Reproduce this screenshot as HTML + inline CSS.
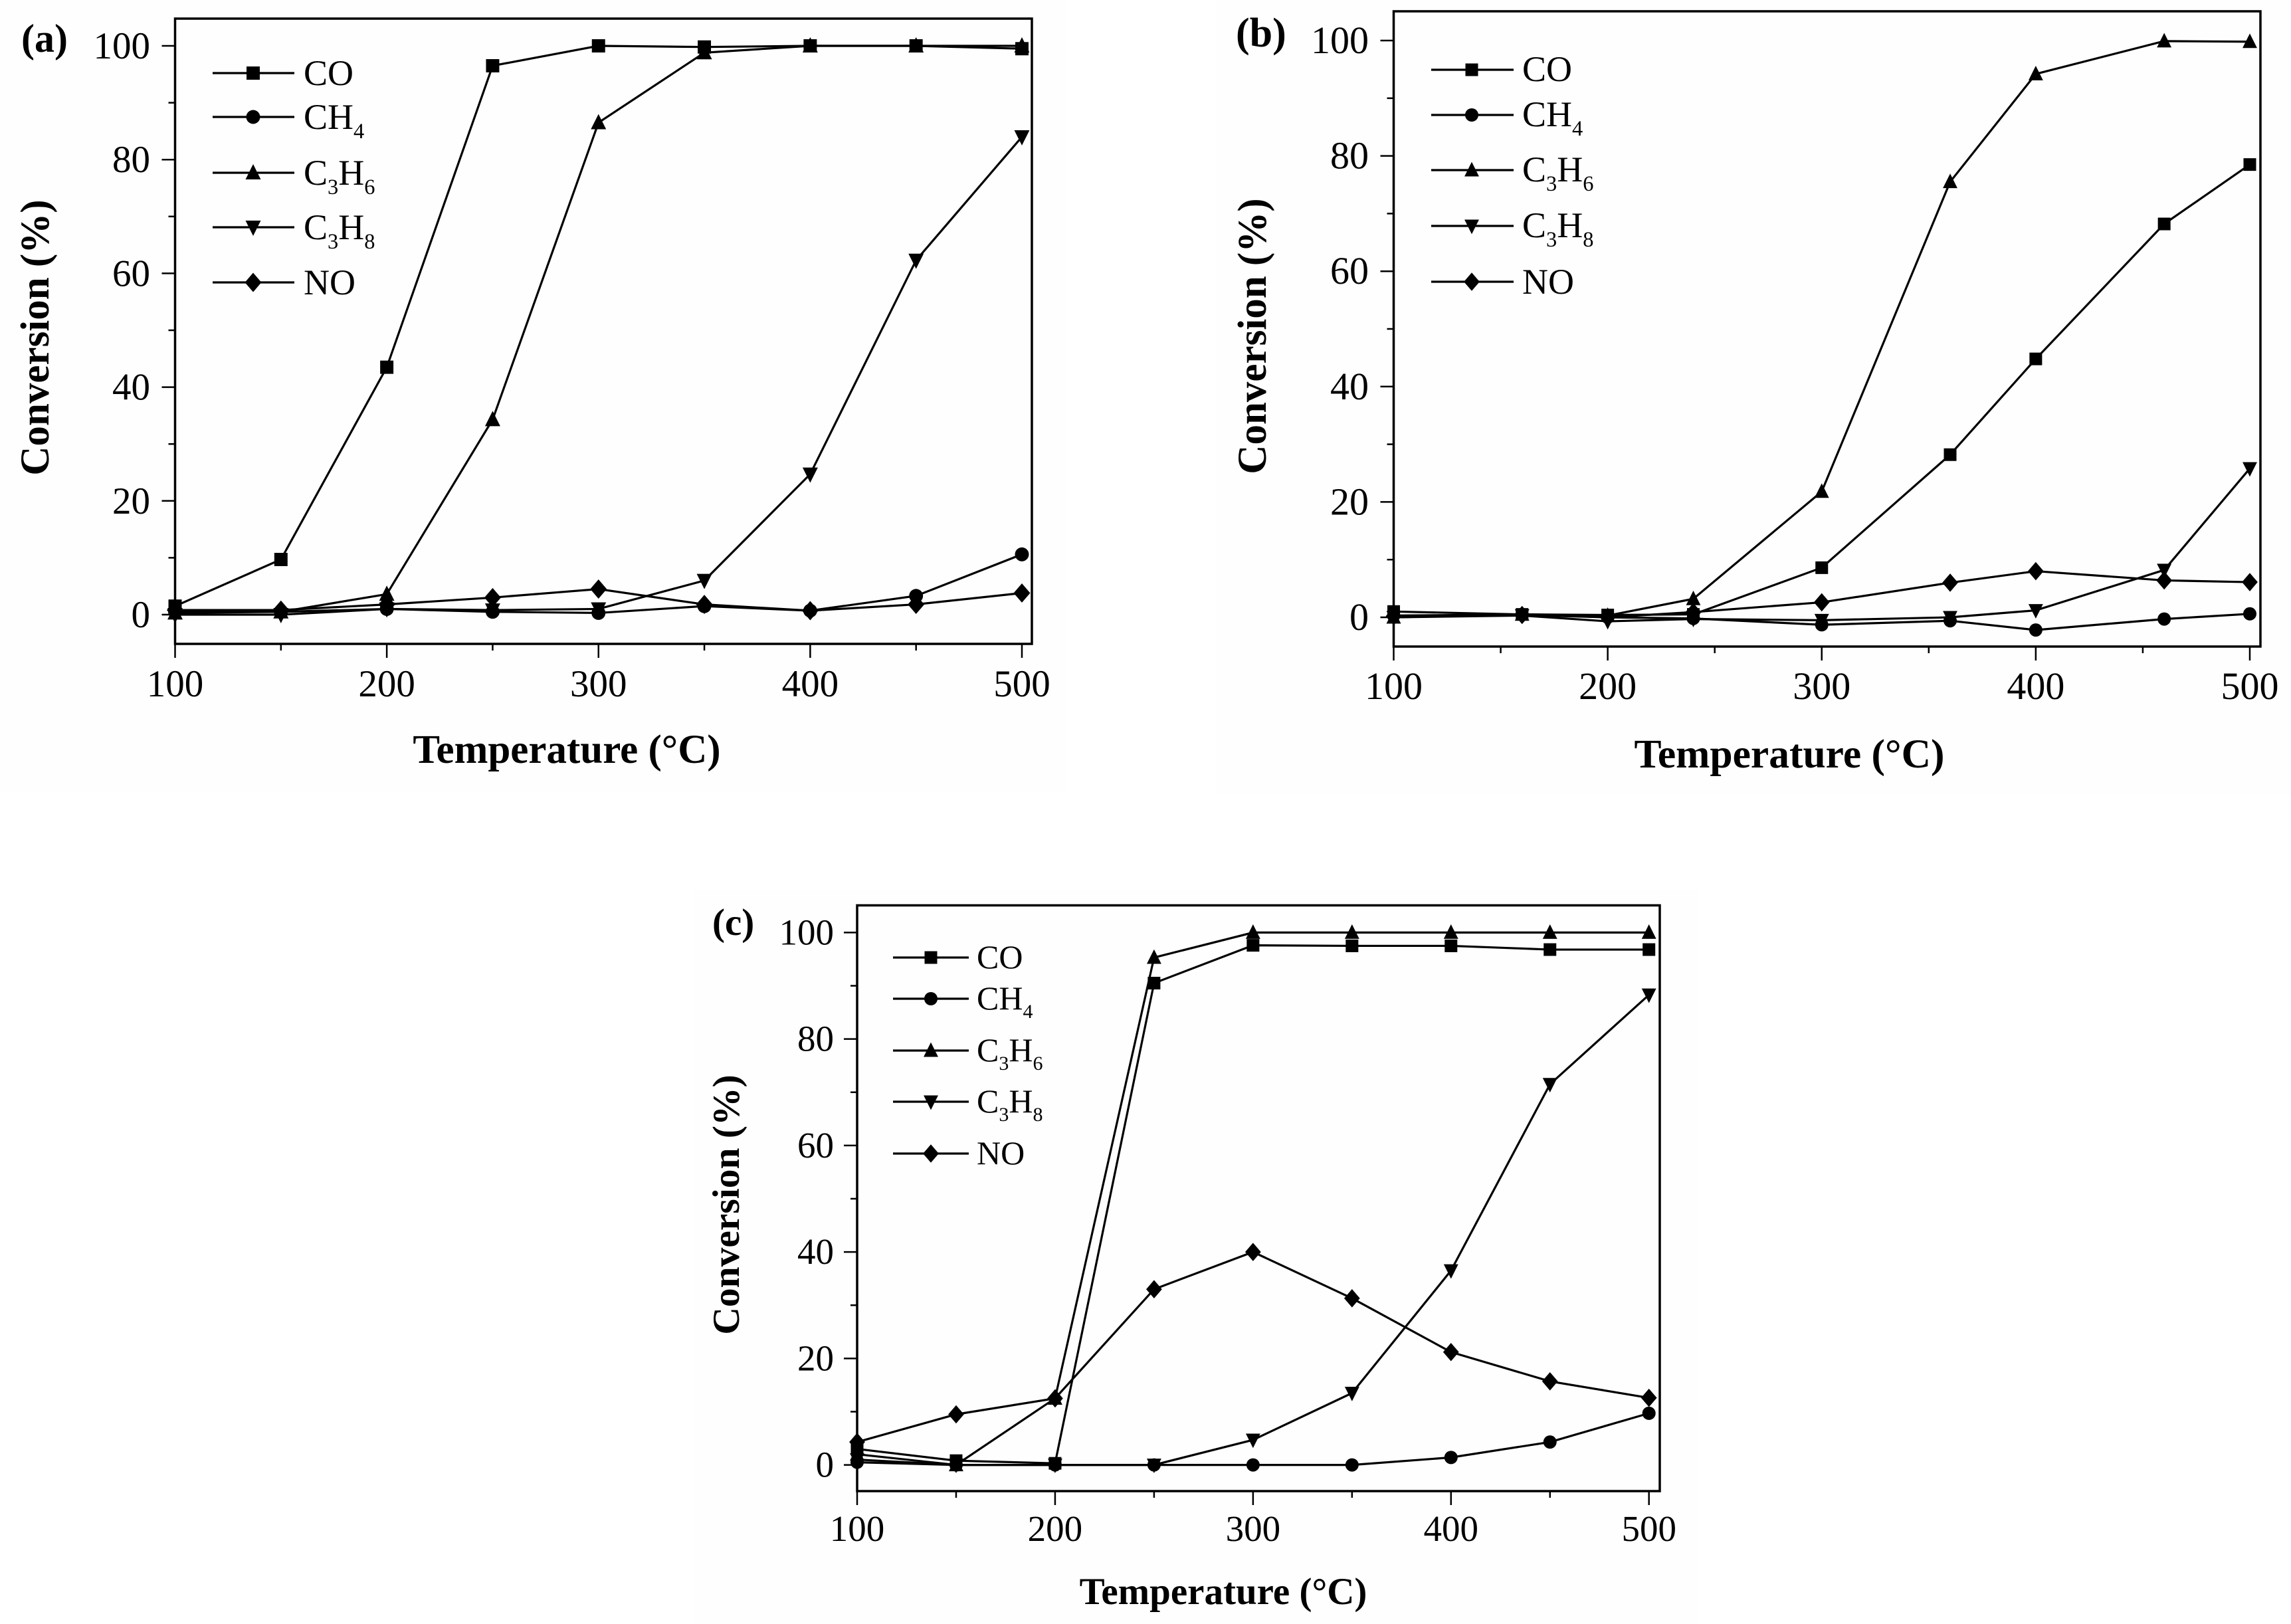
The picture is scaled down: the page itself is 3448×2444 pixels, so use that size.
<!DOCTYPE html>
<html lang="en">
<head>
<meta charset="utf-8">
<title>Conversion vs temperature, panels a, b and c</title>
<style>
html,body{margin:0;padding:0;background:#fff;}
svg{display:block;}
text{font-family:"Liberation Serif",serif;fill:#000;}
.ttl{font-weight:bold;}
.sub{font-size:0.6em;}
</style>
</head>
<body>
<svg id="figure" xmlns="http://www.w3.org/2000/svg" width="3448" height="2444" viewBox="0 0 3448 2444">
  <rect x="0" y="0" width="3448" height="2444" fill="#ffffff"/>
  <rect x="0" y="0" width="1605" height="1190" fill="#fefefe"/>
  <rect x="1830" y="0" width="1618" height="1195" fill="#fefefe"/>
  <rect x="1045" y="1340" width="1510" height="1104" fill="#fefefe"/>

  <g id="panel-a">
    <text class="ttl" x="32" y="78" font-size="60">(a)</text>
    <text class="ttl" font-size="61" text-anchor="middle" transform="translate(73 508) rotate(-90)">Conversion (%)</text>
    <text class="ttl" font-size="61" text-anchor="middle" x="853" y="1148">Temperature (°C)</text>
    <g font-size="54">
      <text x="457" y="128">CO</text>
      <text x="457" y="194">CH<tspan class="sub" dy="14">4</tspan></text>
      <text x="457" y="278">C<tspan class="sub" dy="14">3</tspan><tspan dy="-14">H</tspan><tspan class="sub" dy="14">6</tspan></text>
      <text x="457" y="360">C<tspan class="sub" dy="14">3</tspan><tspan dy="-14">H</tspan><tspan class="sub" dy="14">8</tspan></text>
      <text x="457" y="443">NO</text>
    </g>
  </g>

  <g id="panel-b">
    <text class="ttl" x="1860" y="70" font-size="62">(b)</text>
    <text class="ttl" font-size="61" text-anchor="middle" transform="translate(1905 506) rotate(-90)">Conversion (%)</text>
    <text class="ttl" font-size="61.5" text-anchor="middle" x="2693" y="1155">Temperature (°C)</text>
    <g font-size="54">
      <text x="2291" y="122">CO</text>
      <text x="2291" y="190">CH<tspan class="sub" dy="14">4</tspan></text>
      <text x="2291" y="273">C<tspan class="sub" dy="14">3</tspan><tspan dy="-14">H</tspan><tspan class="sub" dy="14">6</tspan></text>
      <text x="2291" y="357">C<tspan class="sub" dy="14">3</tspan><tspan dy="-14">H</tspan><tspan class="sub" dy="14">8</tspan></text>
      <text x="2291" y="442">NO</text>
    </g>
  </g>

  <g id="panel-c">
    <text class="ttl" x="1072" y="1407" font-size="57">(c)</text>
    <text class="ttl" font-size="57.5" text-anchor="middle" transform="translate(1112 1813) rotate(-90)">Conversion (%)</text>
    <text class="ttl" font-size="57" text-anchor="middle" x="1841" y="2414">Temperature (°C)</text>
    <g font-size="50">
      <text x="1470" y="1457">CO</text>
      <text x="1470" y="1519">CH<tspan class="sub" dy="13">4</tspan></text>
      <text x="1470" y="1597">C<tspan class="sub" dy="13">3</tspan><tspan dy="-13">H</tspan><tspan class="sub" dy="13">6</tspan></text>
      <text x="1470" y="1674">C<tspan class="sub" dy="13">3</tspan><tspan dy="-13">H</tspan><tspan class="sub" dy="13">8</tspan></text>
      <text x="1470" y="1752">NO</text>
    </g>
  </g>
</svg>
<script>
// ---- Data ----
const tempsA = [100, 150, 200, 250, 300, 350, 400, 450, 500];
const coA    = [1.5, 9.7, 43.5, 96.5, 100, 99.8, 100, 100, 99.5];
const ch4A   = [0.5, 0.5, 1, 0.5, 0.3, 1.5, 0.7, 3.3, 10.6];
const c3h6A  = [0.3, 0.5, 3.6, 34.3, 86.5, 98.8, 100, 100, 100];
const c3h8A  = [0, 0, 1, 0.8, 1, 6, 24.7, 62.3, 84];
const noA    = [0.8, 0.8, 1.8, 3, 4.5, 1.8, 0.7, 1.8, 3.8];

const tempsB = [100, 160, 200, 240, 300, 360, 400, 460, 500];
const coB    = [1, 0.5, 0.4, 0.5, 8.6, 28.2, 44.8, 68.2, 78.5];
const ch4B   = [0.3, 0.5, 0, -0.2, -1.3, -0.6, -2.2, -0.3, 0.6];
const c3h6B  = [0, 0.5, 0.3, 3.2, 21.8, 75.5, 94.2, 99.9, 99.8];
const c3h8B  = [0, 0.3, -0.7, -0.3, -0.5, 0, 1.2, 8.2, 25.8];
const noB    = [0.2, 0.4, 0, 0.9, 2.6, 6, 8, 6.4, 6.1];

const tempsC = [100, 150, 200, 250, 300, 350, 400, 450, 500];
const coC    = [3, 0.8, 0.3, 90.5, 97.6, 97.5, 97.5, 96.8, 96.8];
const ch4C   = [0.5, 0, 0, 0, 0, 0, 1.4, 4.3, 9.7];
const c3h6C  = [2, 0, 12.5, 95.3, 100, 100, 100, 100, 100];
const c3h8C  = [1, 0, 0, 0, 4.7, 13.5, 36.5, 71.5, 88.3];
const noC    = [4.3, 9.5, 12.5, 33, 40, 31.3, 21.2, 15.7, 12.6];

const xTickValues = [100, 150, 200, 250, 300, 350, 400, 450, 500];
const xTickLabels = ['100', '', '200', '', '300', '', '400', '', '500'];
const yTickValues = [0, 10, 20, 30, 40, 50, 60, 70, 80, 90, 100];
const yTickLabels = ['0', '', '20', '', '40', '', '60', '', '80', '', '100'];
const seriesKeys  = ['co', 'ch4', 'c3h6', 'c3h8', 'no'];

// ---- Panel layout (pixels) ----
const layoutA = { id: 'panel-a', left: 263.5, right: 1553, top: 28, bottom: 969, x100: 263.5, x500: 1538, y0: 925, y100: 69, tickFont: 57, xBase: 1048, yRight: 226, yShift: 19, legX1: 320, legX2: 443, legM: 381, legY: [110, 176, 260, 342, 425], ms: 1.05 };
const layoutB = { id: 'panel-b', left: 2097.5, right: 3402, top: 17, bottom: 973, x100: 2097.5, x500: 3386, y0: 929, y100: 61, tickFont: 58, xBase: 1052, yRight: 2060, yShift: 19, legX1: 2154, legX2: 2278, legM: 2215, legY: [105, 173, 256, 340, 424], ms: 1 };
const layoutC = { id: 'panel-c', left: 1290, right: 2498, top: 1362.5, bottom: 2244, x100: 1290, x500: 2481.7, y0: 2204.6, y100: 1403.4, tickFont: 55, xBase: 2319, yRight: 1255, yShift: 18, legX1: 1344, legX2: 1458, legM: 1401, legY: [1441, 1503, 1581, 1658, 1736], ms: 1 };

const NS = 'http://www.w3.org/2000/svg';
function make(tag, parent, geometry) {
  const el = document.createElementNS(NS, tag);
  for (const k in geometry) el.setAttribute(k, geometry[k]);
  parent.appendChild(el);
  return el;
}

function drawMarker(parent, key, cx, cy, s) {
  const g = 9.5 * s;
  let m;
  if (key === 'co') {
    m = make('rect', parent, { x: cx - g, y: cy - g, width: 2 * g, height: 2 * g, fill: '#000' });
  } else if (key === 'ch4') {
    m = make('circle', parent, { cx: cx, cy: cy, r: g + 0.5, fill: '#000' });
  } else if (key === 'c3h6') {
    m = make('polygon', parent, { points: [cx, cy - 1.3 * g, cx + 1.15 * g, cy + g, cx - 1.15 * g, cy + g].join(' '), fill: '#000' });
  } else if (key === 'c3h8') {
    m = make('polygon', parent, { points: [cx, cy + 1.3 * g, cx + 1.15 * g, cy - g, cx - 1.15 * g, cy - g].join(' '), fill: '#000' });
  } else {
    m = make('polygon', parent, { points: [cx, cy - 1.45 * g, cx + 1.25 * g, cy, cx, cy + 1.45 * g, cx - 1.25 * g, cy].join(' '), fill: '#000' });
  }
  return m;
}

function drawPanel(L, temps, seriesValues) {
  const root = document.getElementById(L.id);
  const xScale = function (v) { return L.x100 + (v - 100) * (L.x500 - L.x100) / 400; };
  const yScale = function (v) { return L.y0 + v * (L.y100 - L.y0) / 100; };

  const frame = make('rect', root, { x: L.left, y: L.top, width: L.right - L.left, height: L.bottom - L.top, fill: 'none', stroke: '#000', 'stroke-width': 3.5 });
  
  

  xTickValues.forEach(function (v, i) {
    const major = xTickLabels[i] !== '';
    const tick = make('line', root, { x1: xScale(v), x2: xScale(v), y1: L.bottom, y2: L.bottom + (major ? 21 : 10), stroke: '#000', 'stroke-width': 2.5 });
    
    
    if (major) {
      const t = make('text', root, { x: xScale(v), y: L.xBase, 'text-anchor': 'middle', 'font-size': L.tickFont });
      t.textContent = xTickLabels[i];
      
      
    }
  });

  yTickValues.forEach(function (v, i) {
    const major = yTickLabels[i] !== '';
    const tick = make('line', root, { x1: L.left - (major ? 20 : 10), x2: L.left, y1: yScale(v), y2: yScale(v), stroke: '#000', 'stroke-width': 2.5 });
    
    
    if (major) {
      const t = make('text', root, { x: L.yRight, y: yScale(v) + L.yShift, 'text-anchor': 'end', 'font-size': L.tickFont });
      t.textContent = yTickLabels[i];
      
      
    }
  });

  seriesKeys.forEach(function (key, si) {
    const values = seriesValues[si];
    const g = make('g', root, {});
    
    

    const pts = values.map(function (v, i) { return xScale(temps[i]) + ',' + yScale(v); }).join(' ');
    const line = make('polyline', g, { points: pts, fill: 'none', stroke: '#000', 'stroke-width': 3.2 });
    
    

    values.forEach(function (v, i) {
      const pt = drawMarker(g, key, xScale(temps[i]), yScale(v), L.ms);
      
      
    });

    const legLine = make('line', root, { x1: L.legX1, x2: L.legX2, y1: L.legY[si], y2: L.legY[si], stroke: '#000', 'stroke-width': 3.2 });
    
    

    const legMark = drawMarker(root, key, L.legM, L.legY[si], L.ms);
    
    
  });
}

drawPanel(layoutA, tempsA, [coA, ch4A, c3h6A, c3h8A, noA]);
drawPanel(layoutB, tempsB, [coB, ch4B, c3h6B, c3h8B, noB]);
drawPanel(layoutC, tempsC, [coC, ch4C, c3h6C, c3h8C, noC]);
</script>
</body>
</html>
